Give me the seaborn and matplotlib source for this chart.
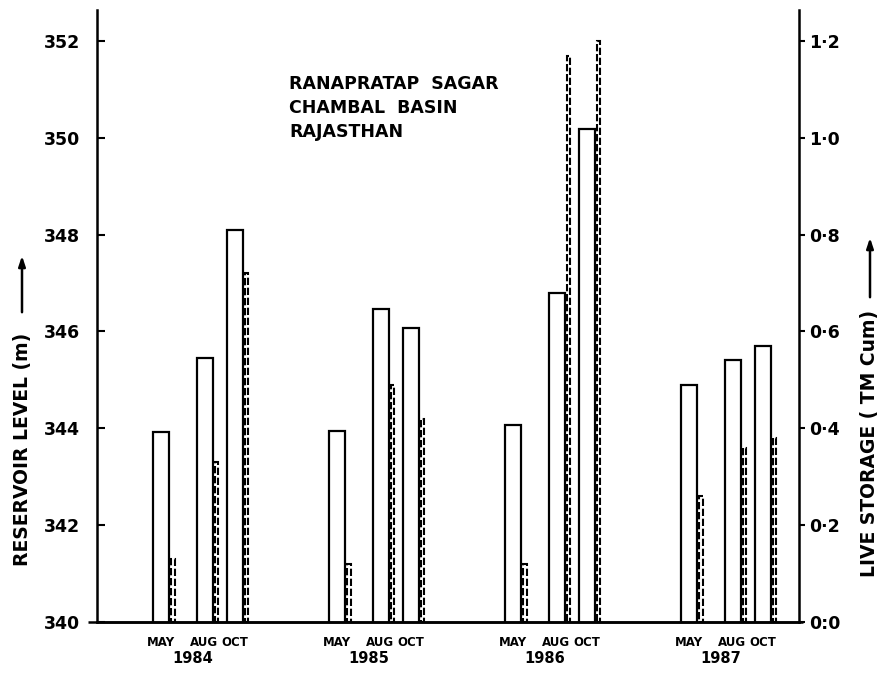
import matplotlib
matplotlib.use("Agg")
import matplotlib.pyplot as plt
import matplotlib.transforms as mtransforms
import pandas as pd
import seaborn as sns

# Reservoir record, Ranapratap Sagar (Chambal basin, Rajasthan)
years = ["1984", "1985", "1986", "1987"]
months = ["MAY", "AUG", "OCT"]
level_m = [343.92, 345.46, 348.10,
           343.94, 346.47, 346.08,
           344.06, 346.80, 350.19,
           344.89, 345.42, 345.71]
storage_tmcum = [0.13, 0.33, 0.72,
                 0.12, 0.49, 0.42,
                 0.12, 1.17, 1.20,
                 0.26, 0.36, 0.38]
level_ticks = [340, 342, 344, 346, 348, 350, 352]
storage_ticks = [0.0, 0.2, 0.4, 0.6, 0.8, 1.0, 1.2]
storage_ticklabels = ["0:0", "0·2", "0·4", "0·6", "0·8", "1·0", "1·2"]
title_lines = ["RANAPRATAP  SAGAR", "CHAMBAL  BASIN", "RAJASTHAN"]

# horizontal layout of the month groups
year_step = 176.0
month_offset = {"MAY": 0.0, "AUG": 43.5, "OCT": 73.5}
pair_gap = 12.0
year_label_offset = 32.0

rows = []
for yi, yr in enumerate(years):
    for mi, mon in enumerate(months):
        k = yi * len(months) + mi
        rows.append({"year": yr, "month": mon,
                     "pos": yi * year_step + month_offset[mon],
                     "level": level_m[k], "storage": storage_tmcum[k]})
df = pd.DataFrame(rows)
df["pos_storage"] = df["pos"] + pair_gap

sns.set_style("ticks")
plt.rcParams["font.family"] = ["DejaVu Sans"]
plt.rcParams["axes.linewidth"] = 1.8
for key in ["text.color", "axes.labelcolor", "xtick.color", "ytick.color",
            "axes.edgecolor"]:
    plt.rcParams[key] = "black"

fig = plt.figure(figsize=(8.82, 6.8), dpi=100)
ax = fig.add_axes([97 / 882, 58 / 680, 702 / 882, 612 / 680])
ax2 = ax.twinx()

spacing = 30.0  # closest pair of month positions (AUG -> OCT)
sns.barplot(data=df, x="pos", y="level", native_scale=True,
            width=16 / spacing, fill=False, color="black", linewidth=1.6,
            errorbar=None, ax=ax)
sns.barplot(data=df, x="pos_storage", y="storage", native_scale=True,
            width=3.5 / spacing, fill=False, color="black", linewidth=1.5,
            errorbar=None, ax=ax2)
for p in ax2.patches:
    p.set_linestyle((0, (3.5, 1.3)))

# left axis: reservoir level
ax.set_ylim(340, 352.64)
ax.set_yticks(level_ticks)
ax.set_yticklabels([str(t) for t in level_ticks], fontweight="bold")
ax.tick_params(axis="y", direction="in", length=6, width=1.5, pad=12,
               labelsize=12.5)
ax.set_xlim(-64, 638)
ax.set_xticks(df["pos"])
ax.set_xticklabels(df["month"], fontsize=8.5, fontweight="bold")
ax.tick_params(axis="x", length=0, pad=10)
ax.set_xlabel("")
ax.set_ylabel("")
for s in ["top", "right"]:
    ax.spines[s].set_visible(False)

# right axis: live storage
ax2.set_ylim(0, 1.264)
ax2.set_yticks(storage_ticks)
ax2.set_yticklabels(storage_ticklabels, fontweight="bold")
ax2.tick_params(axis="y", direction="out", length=4, width=1.5, pad=3,
                labelsize=12.5)
ax2.set_ylabel("")
ax2.set_xlabel("")
for s in ["top", "left", "bottom"]:
    ax2.spines[s].set_visible(False)

# baseline running slightly past both vertical axes
ax.plot([-0.013, 1.006], [0, 0], transform=ax.transAxes, color="black",
        lw=1.8, clip_on=False, solid_capstyle="butt")

# year labels under each group
trans = mtransforms.blended_transform_factory(ax.transData, ax.transAxes)
for yi, yr in enumerate(years):
    ax.text(yi * year_step + year_label_offset, -0.059, yr, transform=trans,
            ha="center", va="center", fontsize=10.5, fontweight="bold")

# site caption
for i, line in enumerate(title_lines):
    ax.text(0.2735, (622 - 89 - 24 * i) / 612, line, transform=ax.transAxes,
            ha="left", va="baseline", fontsize=12.5, fontweight="bold")

# axis titles with upward arrows
fig.text(23 / 882, 1 - 449 / 680, "RESERVOIR LEVEL (m)", rotation=90,
         ha="center", va="center", fontsize=13.5, fontweight="bold")
fig.text(870 / 882, 1 - 443 / 680, "LIVE STORAGE ( TM Cum)", rotation=90,
         ha="center", va="center", fontsize=13.5, fontweight="bold")
arrow = dict(arrowstyle="-|>,head_length=0.6,head_width=0.2", color="black", lw=1.8)
ax.annotate("", xy=(22 / 882, 1 - 253 / 680), xytext=(22 / 882, 1 - 315 / 680),
            xycoords="figure fraction", textcoords="figure fraction",
            arrowprops=arrow, annotation_clip=False)
ax.annotate("", xy=(870 / 882, 1 - 235 / 680), xytext=(870 / 882, 1 - 300 / 680),
            xycoords="figure fraction", textcoords="figure fraction",
            arrowprops=arrow, annotation_clip=False)

fig.savefig("out.png", dpi=100)
